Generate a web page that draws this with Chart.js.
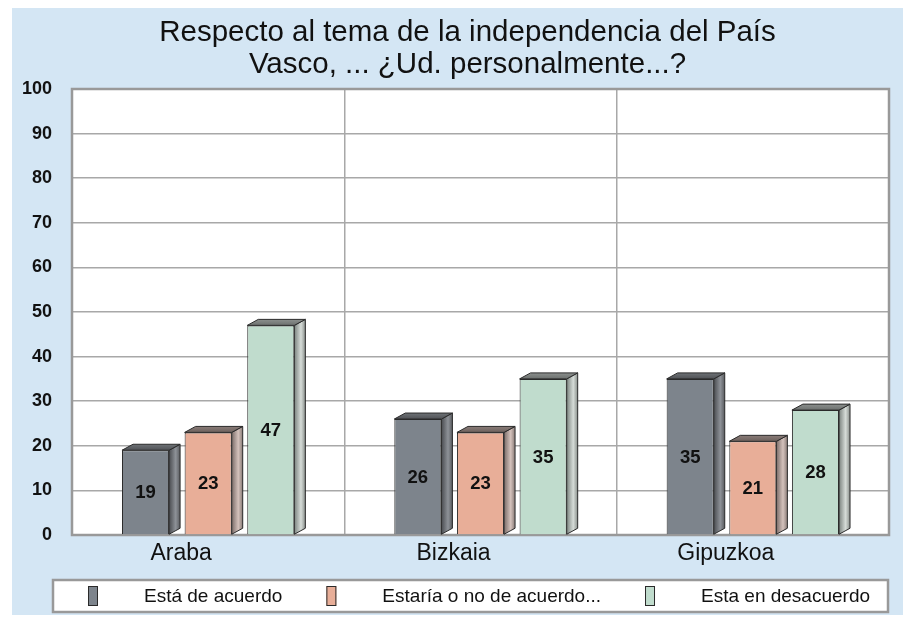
<!DOCTYPE html>
<html>
<head>
<meta charset="utf-8">
<script src="https://cdn.jsdelivr.net/npm/chart.js@4/dist/chart.umd.min.js"></script>
<style>
  html, body { margin: 0; padding: 0; background: #fff; }
  canvas { display: block; }
</style>
</head>
<body>
<canvas id="chart" width="905" height="622"></canvas>
<script>
// --- data ---
const titleLines = ['Respecto al tema de la independencia del País', 'Vasco, ... ¿Ud. personalmente...?'];
const regions = ['Araba', 'Bizkaia', 'Gipuzkoa'];
const seriesNames = ['Está de acuerdo', 'Estaría o no de acuerdo...', 'Esta en desacuerdo'];
const deAcuerdo = [19, 26, 35];
const niSiNiNo = [23, 23, 21];
const enDesacuerdo = [47, 35, 28];
const yMin = 0, yMax = 100, yStep = 10;

// --- styling ---
const FONT = '"Liberation Sans", Arial, Helvetica, sans-serif';
const frontColors = ['#7d848c', '#e8ae98', '#c0dccd'];
const sideShades = [
  ['#4a4c50', '#8e9298', '#5a5c60'],
  ['#7a6c68', '#d4c2bc', '#8a7c78'],
  ['#7c8480', '#d6dcd8', '#8a908c']
];
const topShades = [
  ['#505256', '#6e7276'],
  ['#6c605c', '#8a7c78'],
  ['#6c706e', '#8c908e']
];
const DX = 11, DY = 6;

Chart.defaults.font.family = FONT;

const background = {
  id: 'background',
  beforeDraw(chart) {
    const { ctx, width, height, chartArea: a } = chart;
    ctx.save();
    ctx.fillStyle = '#ffffff';
    ctx.fillRect(0, 0, width, height);
    ctx.fillStyle = '#d4e6f4';
    ctx.fillRect(12, 8, width - 14, height - 15);
    ctx.fillStyle = '#ffffff';
    ctx.fillRect(a.left, a.top, a.right - a.left, a.bottom - a.top);
    // title, centred over the plot area as in the original
    ctx.fillStyle = '#111111';
    ctx.font = '29.5px ' + FONT;
    ctx.textAlign = 'center';
    ctx.textBaseline = 'alphabetic';
    const cx = (a.left + a.right) / 2 - 13;
    ctx.fillText(titleLines[0], cx, 41);
    ctx.fillText(titleLines[1], cx, 73);
    ctx.restore();
  },
  beforeDatasetsDraw(chart) {
    const { ctx, chartArea: a } = chart;
    ctx.save();
    ctx.strokeStyle = '#999999';
    ctx.lineWidth = 2.5;
    ctx.strokeRect(a.left, a.top, a.right - a.left, a.bottom - a.top);
    ctx.restore();
  }
};

const bars3d = {
  id: 'bars3d',
  afterDatasetsDraw(chart) {
    const ctx = chart.ctx;
    chart.data.datasets.forEach((ds, i) => {
      const meta = chart.getDatasetMeta(i);
      meta.data.forEach((bar, j) => {
        const p = bar.getProps(['x', 'y', 'base', 'width'], true);
        const l = p.x - p.width / 2, r = p.x + p.width / 2;
        ctx.save();
        ctx.lineWidth = 1;
        ctx.strokeStyle = '#2a2a2a';
        ctx.lineJoin = 'round';
        // side face
        const gs = ctx.createLinearGradient(r, 0, r + DX, 0);
        gs.addColorStop(0, sideShades[i][0]);
        gs.addColorStop(0.6, sideShades[i][1]);
        gs.addColorStop(1, sideShades[i][2]);
        ctx.beginPath();
        ctx.moveTo(r, p.y);
        ctx.lineTo(r + DX, p.y - DY);
        ctx.lineTo(r + DX, p.base - DY);
        ctx.lineTo(r, p.base);
        ctx.closePath();
        ctx.fillStyle = gs;
        ctx.fill();
        ctx.stroke();
        // top face
        const gt = ctx.createLinearGradient(0, p.y, 0, p.y - DY);
        gt.addColorStop(0, topShades[i][0]);
        gt.addColorStop(1, topShades[i][1]);
        ctx.beginPath();
        ctx.moveTo(l, p.y);
        ctx.lineTo(l + DX, p.y - DY);
        ctx.lineTo(r + DX, p.y - DY);
        ctx.lineTo(r, p.y);
        ctx.closePath();
        ctx.fillStyle = gt;
        ctx.fill();
        ctx.stroke();
        // value label
        ctx.fillStyle = '#111111';
        ctx.font = 'bold 18.5px ' + FONT;
        ctx.textAlign = 'center';
        ctx.textBaseline = 'middle';
        ctx.fillText(String(ds.data[j]), p.x, (p.y + p.base) / 2 + 1);
        ctx.restore();
      });
    });
  }
};

const boxLegend = {
  id: 'boxLegend',
  afterDraw(chart) {
    const { ctx, chartArea: a } = chart;
    const left = a.left - 19, right = a.right - 1;
    const top = a.bottom + 45, bottom = a.bottom + 77;
    ctx.save();
    ctx.fillStyle = '#ffffff';
    ctx.fillRect(left, top, right - left, bottom - top);
    ctx.strokeStyle = '#999999';
    ctx.lineWidth = 2.5;
    ctx.strokeRect(left, top, right - left, bottom - top);
    ctx.font = '19px ' + FONT;
    ctx.textBaseline = 'middle';
    ctx.textAlign = 'left';
    const cy = (top + bottom) / 2;
    let x = left + 35;
    chart.data.datasets.forEach((ds, i) => {
      ctx.fillStyle = ds.backgroundColor;
      ctx.fillRect(x, cy - 10, 10, 20);
      ctx.strokeStyle = '#2a2a2a';
      ctx.lineWidth = 1;
      ctx.strokeRect(x + 0.5, cy - 9.5, 9, 19);
      x += 56;
      ctx.fillStyle = '#111111';
      ctx.fillText(ds.label, x, cy + 1);
      x += ctx.measureText(ds.label).width + 44;
    });
    ctx.restore();
  }
};

const seriesValues = [deAcuerdo, niSiNiNo, enDesacuerdo];

new Chart(document.getElementById('chart'), {
  type: 'bar',
  data: {
    labels: regions,
    datasets: seriesValues.map((vals, i) => ({
      label: seriesNames[i],
      data: vals,
      backgroundColor: frontColors[i],
      borderColor: '#2a2a2a',
      borderWidth: 1,
      categoryPercentage: 0.69,
      barPercentage: 0.752
    }))
  },
  options: {
    responsive: false,
    animation: false,
    devicePixelRatio: 1,
    layout: { padding: { left: 12, right: 16, top: 89, bottom: 57 } },
    plugins: {
      legend: { display: false },
      tooltip: { enabled: false },
      title: { display: false }
    },
    scales: {
      y: {
        min: yMin,
        max: yMax,
        ticks: {
          stepSize: yStep,
          color: '#111111',
          font: { size: 18, weight: 'bold' },
          padding: 20
        },
        grid: { color: '#a8a8a8', lineWidth: 1.5, drawTicks: false },
        border: { display: false },
        afterFit(scale) { scale.width = 60; }
      },
      x: {
        ticks: {
          color: '#111111',
          font: { size: 23 },
          padding: 5,
          labelOffset: -27
        },
        grid: { color: '#a8a8a8', lineWidth: 1.5, drawTicks: false, offset: true },
        border: { display: false },
        afterFit(scale) { scale.height = 30; }
      }
    }
  },
  plugins: [background, bars3d, boxLegend]
});
</script>
</body>
</html>
